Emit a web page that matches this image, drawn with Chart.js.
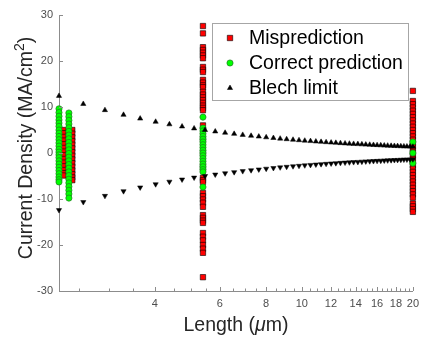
<!DOCTYPE html>
<html>
<head>
<meta charset="utf-8">
<script src="https://cdn.jsdelivr.net/npm/chart.js@4.4.0/dist/chart.umd.min.js"></script>
<style>
  html, body { margin: 0; padding: 0; background: #fff; }
  canvas { display: block; }
</style>
</head>
<body>
<canvas id="chart" width="425" height="337"></canvas>
<script>
// Mispredictions (red squares), one column per wire length
const mispredAt226 = [5.0, 4.3, 3.5, 2.7, 1.9, 1.1, 0.3, -0.5, -1.3, -2.1, -2.9, -3.7, -4.4, -4.9];
const mispredAt239 = [5.0, 4.2, 3.4, 2.6, 1.8, 1.0, 0.2, -0.6, -1.4, -2.2, -3.0, -3.8, -4.6, -5.3, -5.9];
const mispredAt54 = [27.6, 26.0, 23.0, 22.4, 21.8, 21.2, 20.6, 18.7, 18.1, 17.6, 15.9, 15.3, 14.7, 14.3,
  13.3, 12.7, 12.1, 11.5, 10.9, 10.3, 9.8, 9.3, 6.0, 3.0, 0.0, -3.0, -5.4, -5.9, -6.3, -8.7, -9.4, -10.1,
  -10.8, -11.7, -13.5, -14.1, -14.7, -15.2, -17.4, -18.2, -19.0, -20.0, -20.8, -21.7, -27.0];
const mispredAt20 = [13.5, 11.3, 10.6, 9.9, 9.2, 8.5, 7.8, 7.1, 6.4, 5.7, 5.0, 4.3, 3.6, 2.9, 2.2, 1.5,
  0.8, 0.1, -0.6, -1.3, -2.0, -2.7, -3.4, -4.1, -4.8, -5.5, -6.2, -6.9, -7.6, -8.3, -9.0, -9.7,
  -11.0, -11.6, -12.2, -12.8];

// Correct predictions (green circles)
const correctAt22 = [9.6, 8.8, 8.0, 7.2, 6.5, 5.8, 5.0, 4.3, 3.6, 2.9, 2.2, 1.5, 0.8, 0.2, -0.4, -1.0,
  -1.7, -2.4, -3.1, -3.8, -4.5, -5.2, -5.8, -6.3];
const correctAt234 = [8.7, 7.9, 7.1, 6.3, 5.5, 4.7, 3.9, 3.1, 2.3, 1.5, 0.7, -0.1, -0.9, -1.7, -2.5,
  -3.3, -4.1, -4.9, -5.7, -6.5, -7.3, -8.1, -8.9, -9.8];
const correctAt54 = [7.8, 5.4, 4.8, 4.2, 3.6, 3.0, 2.4, 1.8, 1.2, 0.6, 0.0, -0.6, -1.2, -1.8, -2.4,
  -3.0, -3.6, -4.1, -7.4];
const correctAt20 = [2.4, 0.0, -2.2];

// Blech limit (triangles): length and limit magnitude
const blechLengths = [2.2, 2.56, 2.93, 3.29, 3.65, 4.02, 4.38, 4.74, 5.11, 5.47, 5.83, 6.2, 6.56, 6.92,
  7.29, 7.65, 8.01, 8.38, 8.74, 9.1, 9.47, 9.83, 10.19, 10.56, 10.92, 11.28, 11.64, 12.01, 12.37, 12.73,
  13.1, 13.46, 13.82, 14.19, 14.55, 14.91, 15.28, 15.64, 16.0, 16.37, 16.73, 17.09, 17.46, 17.82, 18.18,
  18.55, 18.91, 19.27, 19.64, 20.0];
const blechLimit = [12.41, 10.66, 9.32, 8.3, 7.48, 6.79, 6.23, 5.76, 5.34, 4.99, 4.68, 4.4, 4.16, 3.94,
  3.74, 3.57, 3.41, 3.26, 3.12, 3.0, 2.88, 2.78, 2.68, 2.59, 2.5, 2.42, 2.35, 2.27, 2.21, 2.14,
  2.08, 2.03, 1.98, 1.93, 1.88, 1.83, 1.79, 1.75, 1.71, 1.67, 1.63, 1.6, 1.56, 1.53, 1.5,
  1.47, 1.44, 1.42, 1.39, 1.37];

// axis ticks
const xTickValues = [2.5, 3, 3.5, 4, 4.5, 5, 5.5, 6, 6.5, 7, 7.5, 8, 8.5, 9, 9.5, 10, 10.5, 11, 11.5,
  12, 12.5, 13, 13.5, 14, 14.5, 15, 15.5, 16, 16.5, 17, 17.5, 18, 18.5, 19, 19.5, 20];
const xTickLabels = [4, 6, 8, 10, 12, 14, 16, 18, 20];
const yTickValues = [-30, -20, -10, 0, 10, 20, 30];

function column(x, values) {
  return values.map(v => ({ x: x, y: v }));
}

const FONT = '"Liberation Sans", Arial, sans-serif';
const AXIS_GREY = '#8c8c8c';

// inward tick marks, axis titles and the boxed legend
const decorPlugin = {
  id: 'decor',
  afterDraw(chart) {
    const ctx = chart.ctx;
    const area = chart.chartArea;
    const xs = chart.scales.x;
    const ys = chart.scales.y;
    ctx.save();

    ctx.strokeStyle = AXIS_GREY;
    ctx.lineWidth = 1;
    ctx.beginPath();
    xs.ticks.forEach(t => {
      const px = Math.round(xs.getPixelForValue(t.value)) + 0.5;
      const len = xTickLabels.includes(t.value) ? 4 : 2.5;
      ctx.moveTo(px, area.bottom);
      ctx.lineTo(px, area.bottom - len);
    });
    ys.ticks.forEach(t => {
      const py = Math.round(ys.getPixelForValue(t.value)) + 0.5;
      ctx.moveTo(area.left, py);
      ctx.lineTo(area.left + 4, py);
    });
    ctx.stroke();

    // x title: Length (μm)
    ctx.fillStyle = '#262626';
    ctx.textBaseline = 'alphabetic';
    ctx.textAlign = 'left';
    const xParts = [['Length (', ''], ['\u03bc', 'italic '], ['m)', '']];
    let total = 0;
    xParts.forEach(p => { ctx.font = p[1] + '19.5px ' + FONT; total += ctx.measureText(p[0]).width; });
    let cx = (area.left + area.right) / 2 - total / 2;
    xParts.forEach(p => {
      ctx.font = p[1] + '19.5px ' + FONT;
      ctx.fillText(p[0], cx, 331);
      cx += ctx.measureText(p[0]).width;
    });

    // y title: Current Density (MA/cm^2)
    ctx.save();
    ctx.translate(32, 148);
    ctx.rotate(-Math.PI / 2);
    ctx.font = '19.5px ' + FONT;
    const yMain = 'Current Density (MA/cm';
    const wMain = ctx.measureText(yMain).width;
    ctx.font = '14px ' + FONT;
    const wSup = ctx.measureText('2').width;
    ctx.font = '19.5px ' + FONT;
    const wEnd = ctx.measureText(')').width;
    let ty = -(wMain + wSup + wEnd) / 2;
    ctx.fillText(yMain, ty, 0);
    ty += wMain;
    ctx.font = '14px ' + FONT;
    ctx.fillText('2', ty, -8);
    ty += wSup;
    ctx.font = '19.5px ' + FONT;
    ctx.fillText(')', ty, 0);
    ctx.restore();

    // legend box
    const box = { left: 212.5, top: 23.5, width: 196, height: 77 };
    ctx.fillStyle = '#ffffff';
    ctx.fillRect(box.left, box.top, box.width, box.height);
    ctx.strokeStyle = '#a6a6a6';
    ctx.lineWidth = 1;
    ctx.strokeRect(box.left, box.top, box.width, box.height);

    const rows = [38, 63, 88];
    const ds = chart.data.datasets;
    ctx.font = '19.5px ' + FONT;
    ctx.textBaseline = 'middle';
    [0, 1, 2].forEach((i, k) => {
      const y = rows[k];
      const mx = 230;
      ctx.beginPath();
      if (i === 0) {
        ctx.rect(mx - 2.7, y - 2.7, 5.4, 5.4);
      } else if (i === 1) {
        ctx.arc(mx, y, 3.1, 0, Math.PI * 2);
      } else {
        ctx.moveTo(mx, y - 3);
        ctx.lineTo(mx + 2.6, y + 1.5);
        ctx.lineTo(mx - 2.6, y + 1.5);
        ctx.closePath();
      }
      ctx.fillStyle = ds[i].backgroundColor;
      ctx.fill();
      ctx.strokeStyle = ds[i].borderColor;
      ctx.lineWidth = ds[i].borderWidth;
      ctx.stroke();
      ctx.fillStyle = '#000000';
      ctx.fillText(ds[i].label, 249, y + 1);
    });

    ctx.restore();
  }
};

new Chart(document.getElementById('chart'), {
  type: 'scatter',
  data: {
    datasets: [
      {
        label: 'Misprediction',
        data: [].concat(column(2.26, mispredAt226), column(2.39, mispredAt239),
          column(5.4, mispredAt54), column(20, mispredAt20)),
        pointStyle: 'rect',
        pointRadius: 3.8,
        backgroundColor: '#ff0000',
        borderColor: '#000000',
        borderWidth: 0.6,
        clip: false,
        order: 3
      },
      {
        label: 'Correct prediction',
        data: [].concat(column(2.2, correctAt22), column(2.34, correctAt234),
          column(5.4, correctAt54), column(20, correctAt20)),
        pointStyle: 'circle',
        pointRadius: 3.1,
        backgroundColor: '#00ff00',
        borderColor: '#1f7a1f',
        borderWidth: 0.7,
        clip: false,
        order: 2
      },
      {
        label: 'Blech limit',
        data: blechLengths.map((x, i) => ({ x: x, y: blechLimit[i] })),
        pointStyle: 'triangle',
        pointRadius: 3,
        backgroundColor: '#000000',
        borderColor: '#000000',
        borderWidth: 0.5,
        clip: false,
        order: 1
      },
      {
        label: 'Blech limit (lower)',
        data: blechLengths.map((x, i) => ({ x: x, y: -blechLimit[i] })),
        pointStyle: 'triangle',
        pointRotation: 180,
        pointRadius: 3,
        backgroundColor: '#000000',
        borderColor: '#000000',
        borderWidth: 0.5,
        clip: false,
        order: 1
      }
    ]
  },
  options: {
    responsive: false,
    animation: false,
    devicePixelRatio: 1,
    layout: { padding: { left: 0, top: 15, right: 6, bottom: 0 } },
    plugins: {
      legend: { display: false },
      tooltip: { enabled: false }
    },
    scales: {
      x: {
        type: 'logarithmic',
        min: 2.2,
        max: 20,
        afterBuildTicks: (scale) => {
          scale.ticks = xTickValues.map(v => ({ value: v }));
        },
        afterFit: (scale) => { scale.height = 46; },
        grid: { display: false, drawTicks: false },
        border: { display: true, color: AXIS_GREY, width: 1 },
        ticks: {
          autoSkip: false,
          maxRotation: 0,
          padding: 6,
          color: '#4d4d4d',
          font: { family: FONT, size: 11 },
          callback: (v) => xTickLabels.includes(v) ? String(v) : ''
        }
      },
      y: {
        min: -30,
        max: 30,
        afterBuildTicks: (scale) => {
          scale.ticks = yTickValues.map(v => ({ value: v }));
        },
        afterFit: (scale) => { scale.width = 59; },
        grid: { display: false, drawTicks: false },
        border: { display: true, color: AXIS_GREY, width: 1 },
        ticks: {
          padding: 6,
          color: '#4d4d4d',
          font: { family: FONT, size: 11 }
        }
      }
    }
  },
  plugins: [decorPlugin]
});
</script>
</body>
</html>
